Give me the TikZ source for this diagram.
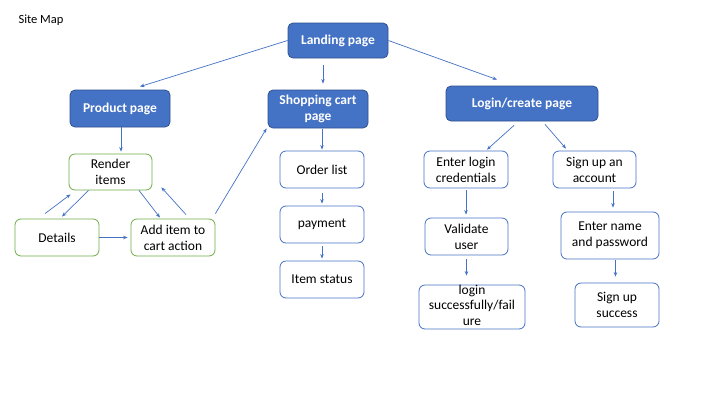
\documentclass[tikz,border=0pt]{standalone}
\usepackage{fontspec}
\setmainfont{Carlito}
\usetikzlibrary{arrows.meta,calc}
\definecolor{blu}{HTML}{4472C4}
\definecolor{bludark}{HTML}{2F528F}
\definecolor{grn}{HTML}{70AD47}
\begin{document}
\begin{tikzpicture}[x=1pt,y=-1pt,
  mainbox/.style={rectangle, rounded corners=5pt, fill=blu, draw=bludark, line width=0.8pt, text=white, font=\bfseries\fontsize{13.5}{16}\selectfont, align=center, inner sep=1pt},
  grnbox/.style={rectangle, rounded corners=6pt, draw=grn, line width=0.8pt, fill=white, font=\fontsize{13.5}{16}\selectfont, align=center, inner sep=1pt},
  blbox/.style={rectangle, rounded corners=6pt, draw=blu, line width=0.8pt, fill=white, font=\fontsize{13.5}{16}\selectfont, align=center, inner sep=1pt},
  conn/.style={draw=blu, line width=0.7pt, -{Stealth[length=4.5pt,width=3.5pt]}}]
\useasboundingbox[fill=white] (0,0) rectangle (720,405);
\node[anchor=west, font=\fontsize{12.5}{14}\selectfont] (title) at (15,20) {Site Map};

\node[mainbox, minimum width=100pt, minimum height=35pt] (landing) at (338,40.5) {Landing page};
\node[mainbox, minimum width=100pt, minimum height=37pt] (product) at (120,108.5) {Product page};
\node[mainbox, minimum width=100pt, minimum height=38pt] (cart) at (318,109) {Shopping cart\\page};
\node[mainbox, minimum width=152pt, minimum height=35pt] (login) at (522,103.5) {Login/create page};

\node[grnbox, minimum width=83pt, minimum height=36pt] (render) at (110.5,172) {Render\\items};
\node[grnbox, minimum width=84pt, minimum height=37pt] (details) at (57,237.5) {Details};
\node[grnbox, minimum width=84pt, minimum height=37pt] (additem) at (173,237.5) {Add item to\\cart action};

\node[blbox, minimum width=84pt, minimum height=37pt] (order) at (322,169.5) {Order list};
\node[blbox, minimum width=84pt, minimum height=37pt] (payment) at (322,224.5) {payment};
\node[blbox, minimum width=84pt, minimum height=37pt] (status) at (322,279.5) {Item status};

\node[blbox, minimum width=84pt, minimum height=37pt] (enterlogin) at (466,169.5) {Enter login\\credentials};
\node[blbox, minimum width=83pt, minimum height=37pt] (signup) at (594.5,169.5) {Sign up an\\account};
\node[blbox, minimum width=83pt, minimum height=37pt] (validate) at (466.5,236.5) {Validate\\user};
\node[blbox, minimum width=98pt, minimum height=47pt] (entername) at (610,235.5) {Enter name\\and password};
\node[blbox, minimum width=106pt, minimum height=44pt] (loginsucc) at (472,307) {};
\node[font=\fontsize{13.5}{15.5}\selectfont, align=center] (loginsucctxt) at (472,305) {login\\successfully/fail\\ure};
\node[blbox, minimum width=84pt, minimum height=44pt] (signsucc) at (617,305) {Sign up\\success};

\draw[conn] (landing.west) -- ($(product.north)+(20,-3)$);
\draw[conn] ($(landing.south)+(-15,7)$) -- ($(cart.north)+(5,-6)$);
\draw[conn] (landing.east) -- ($(login.north)+(-25,-6)$);
\draw[conn] ($(product.south)+(1,0)$) -- ($(render.north)+(10.5,-2)$);
\draw[conn] ($(render.south)+(-22,0)$) -- ($(details.north)+(5,-2)$);
\draw[conn] ($(details.north)+(-12,-5)$) -- ($(render.south)+(-40,4)$);
\draw[conn] ($(render.south)+(28.5,0)$) -- ($(additem.north)+(-13,-1)$);
\draw[conn] ($(additem.north)+(13,-4)$) -- ($(render.south east)+(9,-3)$);
\draw[conn] (details.east) -- ($(additem.west)+(-3,0)$);
\draw[conn] ($(additem.north east)+(0,-5)$) -- ($(cart.south west)+(-1,0)$);
\draw[conn] ($(cart.south)+(4,1)$) -- ($(order.north)+(0,-1)$);
\draw[conn] ($(order.south)+(0,5)$) -- ($(payment.north)+(0,-2)$);
\draw[conn] ($(payment.south)+(0,3)$) -- ($(status.north)+(0,-2)$);
\draw[conn] ($(login.south)+(-8,4)$) -- ($(enterlogin.north)+(21,-1)$);
\draw[conn] ($(login.south)+(23,3)$) -- ($(signup.north)+(-28.5,-2)$);
\draw[conn] ($(enterlogin.south)+(0,2)$) -- ($(validate.north)+(-0.5,-3)$);
\draw[conn] ($(validate.south)+(0,4)$) -- ($(loginsucc.north)+(-5.5,-9)$);
\draw[conn] ($(signup.south)+(18.5,3)$) -- ($(entername.north)+(3,-4)$);
\draw[conn] ($(entername.south)+(5.5,1)$) -- ($(signsucc.north)+(-1.5,-6)$);
\end{tikzpicture}
\end{document}
